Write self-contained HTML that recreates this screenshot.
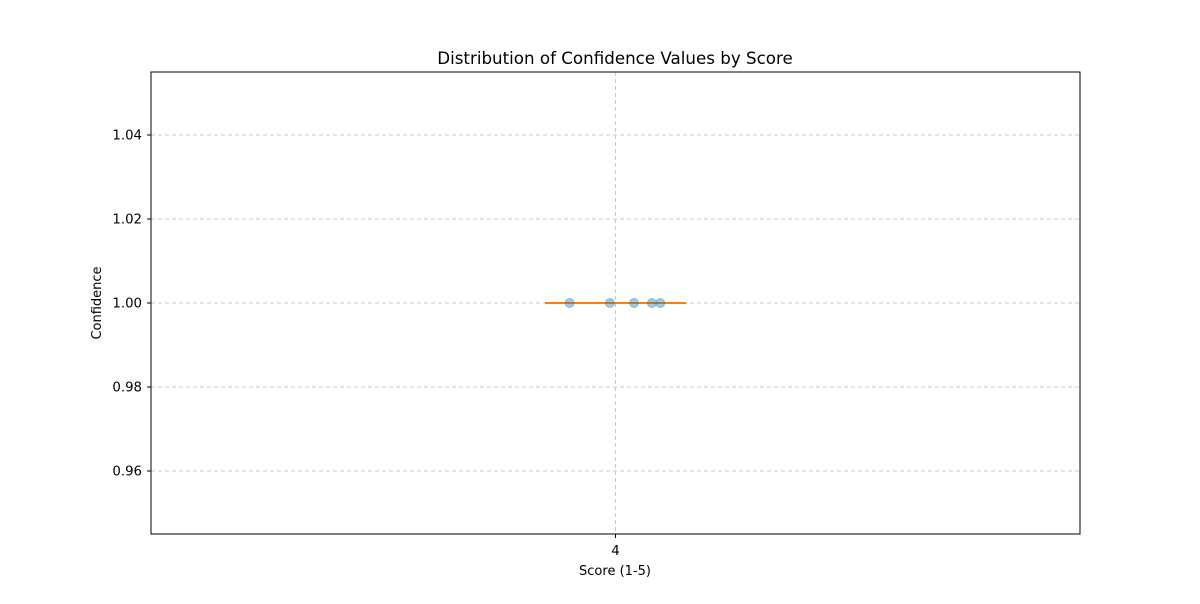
<!DOCTYPE html>
<html><head><meta charset="utf-8"><style>
body{margin:0;background:#fff;font-family:"DejaVu Sans","Liberation Sans",sans-serif}
</style></head><body>
<svg id="chart" width="1200" height="600" xmlns="http://www.w3.org/2000/svg" font-family="DejaVu Sans, Liberation Sans, sans-serif">
<rect width="1200" height="600" fill="#fff"/>
<text x="615" y="64" font-size="16.7" text-anchor="middle">Distribution of Confidence Values by Score</text>
<g id="grid"></g><g id="ticks"></g><g id="marks"></g>
<rect x="151" y="72" width="929" height="462" fill="none" stroke="#000" stroke-width="1"/>
<text x="615" y="575" font-size="13" text-anchor="middle">Score (1-5)</text>
<text transform="translate(101,303) rotate(-90)" font-size="13" text-anchor="middle">Confidence</text>
</svg>
<script>
const categories=[4];
const yTicks=[0.96,0.98,1.00,1.02,1.04];
const yTickLabels=["0.96","0.98","1.00","1.02","1.04"];
const confidences=[1.0,1.0,1.0,1.0,1.0];
const jitter=[-0.164,-0.02,0.066,0.13,0.16];
const boxQ1=[1.0],boxQ3=[1.0],boxMed=[1.0],boxMin=[1.0],boxMax=[1.0];
const NS="http://www.w3.org/2000/svg";
const L=151,R=1080,T=72,B=534;
const yMin=0.945,yMax=1.055;
const y=v=>B-(v-yMin)/(yMax-yMin)*(B-T);
const x=v=>615.5+(v-4)*280;
function mk(tag,attrs,parent){const e=document.createElementNS(NS,tag);for(const k in attrs)e.setAttribute(k,attrs[k]);document.getElementById(parent).appendChild(e);return e;}
yTicks.forEach((t,i)=>{
 const g=mk('line',{x1:L,x2:R,y1:y(t),y2:y(t),stroke:'#c8c8c8','stroke-dasharray':'4,3'},'grid');
 
 
 const tk=mk('line',{x1:L-4,x2:L,y1:y(t),y2:y(t),stroke:'#000'},'ticks');
 
 
 const tx=mk('text',{x:L-9,y:y(t)+4.5,'font-size':13.3,'text-anchor':'end'},'ticks');
 tx.textContent=yTickLabels[i];
 
 
});
categories.forEach((c,i)=>{
 const g=mk('line',{x1:x(c),x2:x(c),y1:T,y2:B,stroke:'#c8c8c8','stroke-dasharray':'4,3'},'grid');
 
 
 const tk=mk('line',{x1:x(c),x2:x(c),y1:B,y2:B+4,stroke:'#000'},'ticks');
 
 
 const tx=mk('text',{x:x(c),y:B+21,'font-size':13.3,'text-anchor':'middle'},'ticks');
 tx.textContent=String(c);
 
 
 const hw=0.25*280;
 const box=mk('rect',{x:x(c)-hw,y:y(boxQ3[i]),width:2*hw,height:Math.max(y(boxQ1[i])-y(boxQ3[i]),0.01),fill:'none',stroke:'#000','stroke-width':1},'marks');
 
 
 const wh=mk('line',{x1:x(c),x2:x(c),y1:y(boxMax[i]),y2:y(boxMin[i]),stroke:'#000'},'marks');
 
 
 const md=mk('line',{x1:x(c)-hw,x2:x(c)+hw,y1:y(boxMed[i]),y2:y(boxMed[i]),stroke:'#ff7f0e','stroke-width':2},'marks');
 
 
});
confidences.forEach((v,i)=>{
 const p=mk('circle',{cx:x(4+jitter[i]),cy:y(v),r:4.5,fill:'#1f77b4','fill-opacity':0.4,stroke:'#1f77b4','stroke-opacity':0.4},'marks');
 
 
});
</script>
</body></html>
